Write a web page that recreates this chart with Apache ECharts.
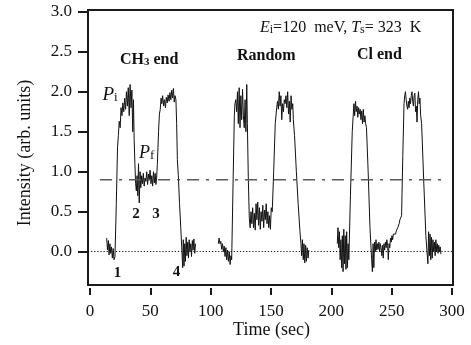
<!DOCTYPE html>
<html>
<head>
<meta charset="utf-8">
<script src="https://cdn.jsdelivr.net/npm/echarts@6/dist/echarts.min.js"></script>
<style>
html,body{margin:0;padding:0;background:#fff;}
#chart{width:471px;height:345px;}
</style>
</head>
<body>
<div id="chart"></div>
<script>
// ---- data ----
const xTicks = [0, 50, 100, 150, 200, 250, 300];
const yTicks = [0, 0.5, 1.0, 1.5, 2.0, 2.5, 3.0];

const ch3Time = [13.8,14.5,15.2,15.8,16.5,17.2,17.8,18.5,19.2,19.9,20.7,21.8,22.8,23.5,24.2,25.0,25.7,26.5,27.2,28.0,28.7,29.5,30.2,31.0,31.7,32.5,33.2,34.0,34.7,35.4,36.0,36.6,37.2,37.8,38.4,39.0,39.6,40.2,40.8,41.5,42.1,42.8,43.5,44.2,44.9,45.6,46.3,47.0,47.7,48.4,49.1,49.8,50.5,51.2,51.9,52.6,53.3,54.0,54.6,55.2,55.8,56.8,57.5,58.2,58.9,59.5,60.2,61.0,61.7,62.5,63.2,64.0,64.7,65.5,66.2,67.0,67.7,68.4,69.1,69.8,70.5,71.2,71.8,72.4,73.2,74.2,75.2,76.2,76.8,77.3,77.9,78.5,79.1,79.7,80.3,81.0,81.6,82.2,82.8,83.5,84.1,84.8,85.4,86.1,86.8,87.4];
const ch3Int  = [0.17,0.02,0.14,-0.04,0.10,-0.02,0.06,-0.08,0.04,-0.10,-0.06,0.60,1.30,1.45,1.63,1.55,1.80,1.70,1.86,1.75,1.92,1.78,2.00,1.82,2.05,1.70,2.09,1.80,2.02,1.50,1.90,1.40,1.10,0.85,0.76,0.95,0.70,1.10,0.61,1.00,0.80,0.95,0.85,0.98,0.82,0.92,0.88,1.00,0.84,0.97,0.90,1.02,0.85,0.95,0.82,1.00,0.86,0.98,0.84,0.92,1.09,1.50,1.72,1.78,1.92,1.85,1.95,1.82,1.90,1.80,1.93,1.86,1.96,1.88,1.99,1.90,2.02,1.92,2.04,1.87,1.95,1.90,1.60,1.15,0.95,0.60,0.30,0.00,-0.20,0.15,-0.18,0.10,-0.12,0.18,-0.05,0.12,-0.08,0.15,0.00,0.10,-0.06,0.14,0.02,0.16,-0.02,0.10];

const randTime = [106.3,107.0,107.7,108.4,109.1,109.8,110.5,111.2,111.9,112.6,113.3,114.0,114.7,115.4,116.1,116.8,117.4,118.6,119.6,120.1,120.8,121.5,122.2,122.9,123.6,124.3,125.0,125.7,126.4,127.1,127.8,128.5,129.2,129.9,130.4,131.2,132.0,132.7,133.4,134.1,134.8,135.5,136.2,136.9,137.6,138.3,139.0,139.7,140.4,141.1,141.8,142.5,143.2,143.9,144.6,145.3,146.0,146.7,147.4,148.1,148.8,149.5,150.2,151.0,152.2,153.5,154.7,155.4,156.1,156.8,157.5,158.2,158.9,159.6,160.3,161.0,161.7,162.4,163.1,163.8,164.5,165.2,165.9,166.6,167.3,168.0,168.5,169.5,171.0,172.5,174.0,174.8,175.4,176.0,176.7,177.3,178.0,178.7,179.3,180.0,180.7,181.3];
const randInt  = [0.10,0.17,0.10,0.13,0.03,0.10,0.00,0.07,-0.06,0.05,-0.10,0.02,-0.12,0.00,-0.16,-0.05,-0.10,0.90,1.70,1.85,1.90,1.75,2.00,1.60,2.05,1.55,1.95,1.65,2.03,1.70,1.55,1.90,1.50,2.09,1.60,0.90,0.42,0.30,0.50,0.35,0.55,0.30,0.48,0.27,0.60,0.40,0.62,0.33,0.55,0.28,0.50,0.38,0.58,0.30,0.52,0.40,0.60,0.35,0.50,0.30,0.45,0.28,0.55,0.50,1.00,1.60,1.80,1.88,1.78,2.00,1.82,1.95,1.65,1.85,1.75,1.90,1.85,1.95,1.80,2.00,1.72,1.88,1.62,1.95,1.78,1.85,1.65,1.45,1.00,0.60,0.25,0.10,-0.05,0.15,-0.10,0.10,-0.14,0.08,-0.12,0.05,-0.08,0.02];

const clTime = [204.9,205.5,206.1,206.7,207.3,207.9,208.5,209.1,209.7,210.3,210.9,211.5,212.1,212.7,213.3,213.9,214.5,215.8,217.3,218.7,219.3,220.0,220.6,221.3,221.9,222.6,223.2,223.9,224.5,225.2,225.8,226.5,227.1,227.8,228.4,229.1,230.5,232.0,233.4,234.0,234.6,235.2,235.8,236.4,237.0,237.6,238.2,238.8,239.4,240.0,240.6,241.2,241.8,242.4,243.0,243.6,244.2,244.8,245.4,246.0,246.6,247.2,247.8,248.4,249.0,249.6,250.2,250.8,251.4,252.0,252.6,253.2,253.8,254.4,255.0,255.6,256.2,256.8,258.2,259.2,260.2,260.8,261.4,262.0,262.6,263.2,263.8,264.4,265.0,265.6,266.2,266.8,267.4,268.0,268.6,269.2,269.8,270.4,271.0,271.6,272.2,272.8,273.4,274.0,274.8,276.5,278.3,279.5,280.0,280.6,281.2,281.8,282.4,283.0,283.6,284.2,284.8,285.4,286.0,286.6,287.2,287.8,288.4,289.0,289.6,290.2,290.8];
const clInt  = [0.10,0.30,0.05,0.25,-0.10,0.15,-0.20,0.20,-0.25,0.28,-0.15,0.20,-0.22,0.25,-0.20,0.10,-0.10,0.70,1.50,1.85,1.70,1.88,1.75,1.82,1.68,1.80,1.72,1.78,1.65,1.76,1.60,1.78,1.62,1.70,1.60,1.55,1.00,0.30,-0.10,-0.25,0.10,-0.20,0.12,0.00,0.15,0.02,0.10,0.03,0.12,0.00,0.10,0.05,-0.05,0.08,-0.08,0.10,0.02,0.12,0.05,0.15,0.08,-0.10,0.10,0.05,0.17,0.12,0.20,0.15,0.22,0.20,0.24,0.22,0.26,0.28,0.30,0.30,0.35,0.40,0.45,1.20,1.85,1.95,2.00,1.90,1.82,1.78,1.88,1.80,1.92,1.85,1.95,2.00,1.88,1.82,1.95,1.98,1.75,1.82,1.62,1.90,2.00,1.85,1.92,1.70,1.60,0.90,0.20,0.20,-0.15,0.25,-0.05,0.22,-0.10,0.18,-0.08,0.15,0.00,0.12,-0.05,0.15,0.00,0.10,-0.02,0.08,0.00,0.06,-0.03];

const baseLevel = 0;          // dotted reference
const refLevel = 0.9;         // dash-dot reference
const refSpan = [8.3, 292.4]; // extent of dash-dot line

const zip = (a, b) => a.map((v, i) => [v, b[i]]);

const FONT = 'Liberation Serif';
const chart = echarts.init(document.getElementById('chart'));

const lineSeries = (data) => ({
  type: 'line', data, showSymbol: false, symbol: 'none',
  lineStyle: { color: '#111', width: 1 }, silent: true, animation: false
});

const txt = (size, weight, style) => ({ fontFamily: FONT, fontSize: size, fontWeight: weight || 'normal',
  fontStyle: style || 'normal', fill: '#111' });

chart.setOption({
  animation: false,
  textStyle: { fontFamily: FONT },
  grid: { left: 88, top: 10, width: 365, height: 275, show: true,
          borderColor: '#1a1a1a', borderWidth: 2, containLabel: false },
  xAxis: {
    type: 'value', min: -1.66, max: 300.8, offset: 3,
    axisLine: { show: false, onZero: false },
    axisTick: { show: true, length: 7, customValues: xTicks, lineStyle: { color: '#1a1a1a', width: 2 } },
    axisLabel: { customValues: xTicks, margin: 15, fontFamily: FONT, fontSize: 17, color: '#111' },
    splitLine: { show: false }
  },
  yAxis: {
    type: 'value', min: -0.416, max: 3.021,
    axisLine: { show: false, onZero: false },
    axisTick: { show: true, length: 10, customValues: yTicks, lineStyle: { color: '#1a1a1a', width: 2 } },
    axisLabel: { customValues: yTicks, margin: 16, fontFamily: FONT, fontSize: 17, color: '#111',
                 formatter: v => v.toFixed(1) },
    splitLine: { show: false }
  },
  series: [
    Object.assign(lineSeries(zip(ch3Time, ch3Int)), {
      markLine: { silent: true, symbol: 'none', animation: false, label: { show: false },
        lineStyle: { color: '#111', width: 1.2, type: [1.2, 1.9] },
        data: [{ yAxis: baseLevel }] }
    }),
    lineSeries(zip(randTime, randInt)),
    lineSeries(zip(clTime, clInt)),
    { type: 'line', data: refSpan.map(x => [x, refLevel]), showSymbol: false, symbol: 'none', silent: true,
      lineStyle: { color: '#5a5a5a', width: 1.6, type: [12, 7, 3, 7] } }
  ],
  graphic: [
    { type: 'text', x: 271.5, y: 330, style: Object.assign(txt(18), { text: 'Time (sec)', align: 'center', verticalAlign: 'middle' }) },
    { type: 'text', x: 25.5, y: 153, rotation: Math.PI / 2, style: Object.assign(txt(18), { text: 'Intensity (arb. units)', align: 'center', verticalAlign: 'middle' }) },
    { type: 'text', x: 260, y: 27, style: Object.assign(txt(16), {
      text: '{it|E}{sm|i}{n|=120  meV, }{it|T}{sm|s}{n|= 323  K}', align: 'left', verticalAlign: 'middle',
      rich: {
        it: Object.assign(txt(16, 'normal', 'italic'), { verticalAlign: 'bottom', lineHeight: 17 }),
        sm: Object.assign(txt(12), { verticalAlign: 'bottom', lineHeight: 17 }),
        n:  Object.assign(txt(16), { verticalAlign: 'bottom', lineHeight: 17 })
      } }) },
    { type: 'text', x: 120, y: 59, style: Object.assign(txt(16, 'bold'), {
      text: '{b|CH}{s|3}{b| end}', align: 'left', verticalAlign: 'middle',
      rich: {
        b: Object.assign(txt(16, 'bold'), { verticalAlign: 'bottom', lineHeight: 17 }),
        s: Object.assign(txt(11, 'bold'), { verticalAlign: 'bottom', lineHeight: 17 })
      } }) },
    { type: 'text', x: 237, y: 55.5, style: Object.assign(txt(16, 'bold'), { text: 'Random', align: 'left', verticalAlign: 'middle' }) },
    { type: 'text', x: 357, y: 55, style: Object.assign(txt(16, 'bold'), { text: 'Cl end', align: 'left', verticalAlign: 'middle' }) },
    { type: 'text', x: 102.5, y: 94, style: Object.assign(txt(19), {
      text: '{p|P}{s|i}', align: 'left', verticalAlign: 'middle',
      rich: {
        p: Object.assign(txt(19, 'normal', 'italic'), { verticalAlign: 'bottom', lineHeight: 20 }),
        s: Object.assign(txt(13), { verticalAlign: 'bottom', lineHeight: 20 })
      } }) },
    { type: 'text', x: 139, y: 153, style: Object.assign(txt(18), {
      text: '{p|P}{s|f}', align: 'left', verticalAlign: 'middle',
      rich: {
        p: Object.assign(txt(18, 'normal', 'italic'), { verticalAlign: 'bottom', lineHeight: 19 }),
        s: Object.assign(txt(13), { verticalAlign: 'bottom', lineHeight: 19 })
      } }) },
    { type: 'text', x: 117.5, y: 273, style: Object.assign(txt(15, 'bold'), { text: '1', align: 'center', verticalAlign: 'middle' }) },
    { type: 'text', x: 136, y: 214, style: Object.assign(txt(15, 'bold'), { text: '2', align: 'center', verticalAlign: 'middle' }) },
    { type: 'text', x: 156, y: 214, style: Object.assign(txt(15, 'bold'), { text: '3', align: 'center', verticalAlign: 'middle' }) },
    { type: 'text', x: 176.5, y: 272.5, style: Object.assign(txt(15, 'bold'), { text: '4', align: 'center', verticalAlign: 'middle' }) }
  ]
});
</script>
</body>
</html>
